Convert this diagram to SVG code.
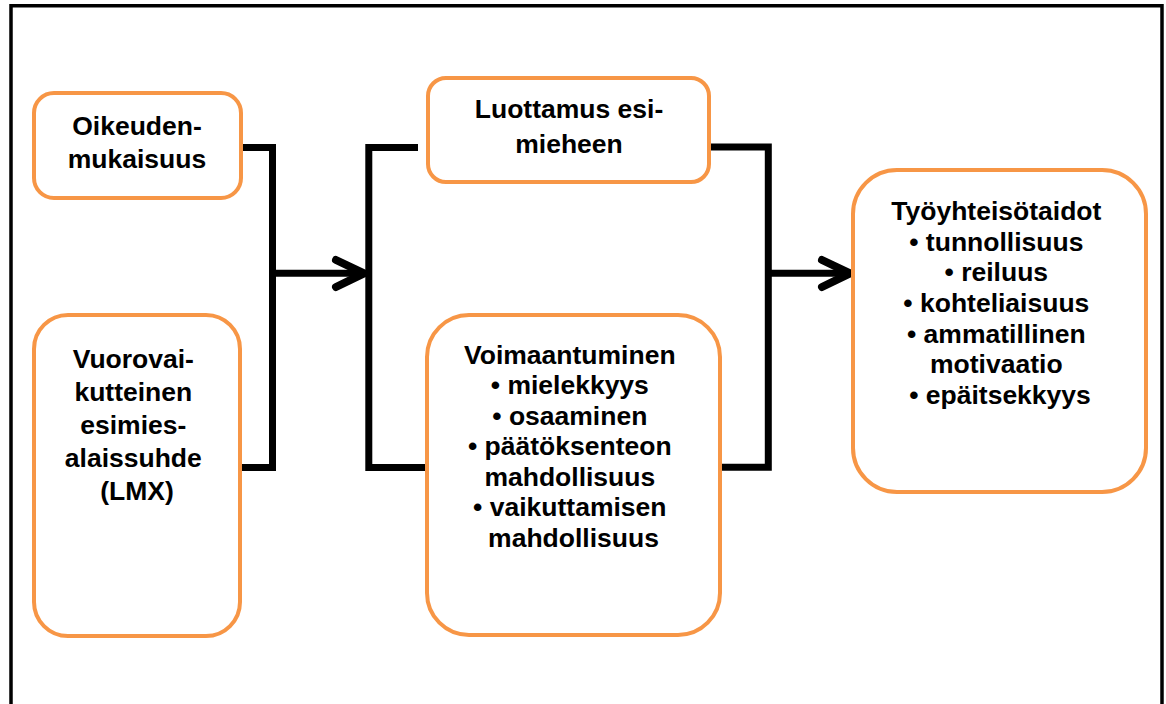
<svg xmlns="http://www.w3.org/2000/svg" width="1166" height="704" viewBox="0 0 1166 704">
  <defs>
    <style>
      .box { fill: #ffffff; stroke: #F79646; stroke-width: 4; }
      .lbl { font-family: "Liberation Sans", Arial, sans-serif; font-weight: bold; font-size: 26.5px; fill: #000000; text-anchor: middle; }
      .wire { fill: none; stroke: #000000; stroke-width: 7; stroke-linejoin: miter; stroke-linecap: butt; }
      .head { fill: none; stroke: #000000; stroke-width: 8; stroke-linecap: round; stroke-linejoin: round; }
    </style>
  </defs>
  <rect width="1166" height="704" fill="#ffffff"/>

  <!-- outer frame -->
  <path d="M11,704 V5.8 H1162 V704" fill="none" stroke="#000000" stroke-width="3.5"/>

  <!-- connectors -->
  <g id="connectors">
    <!-- bracket joining the two left boxes -->
    <path class="wire" d="M242,147.5 H272.5 V467.5 H241"/>
    <path class="wire" d="M272.5,273.3 H362"/>
    <path class="head" d="M336,260 L364,273.3 L336,287"/>
    <!-- bracket spanning the two middle boxes -->
    <path class="wire" d="M418,147.5 H368.8 V467.5 H427"/>
    <!-- bracket joining the two middle boxes -->
    <path class="wire" d="M709,147 H768.3 V467.3 H720"/>
    <path class="wire" d="M768.3,273.3 H848"/>
    <path class="head" d="M822,260 L850,273.3 L822,287"/>
  </g>

  <g id="oikeudenmukaisuus">
    <rect class="box" x="34" y="93" width="207" height="105" rx="20" ry="20"/>
    <text class="lbl"><tspan x="137" y="135">Oikeuden-</tspan><tspan x="137" y="168">mukaisuus</tspan></text>
  </g>

  <g id="lmx">
    <rect class="box" x="34" y="315" width="206" height="321" rx="34" ry="34"/>
    <text class="lbl">
      <tspan x="137" y="368">Vuorovai-</tspan>
      <tspan x="137" y="401">kutteinen</tspan>
      <tspan x="137" y="434">esimies-</tspan>
      <tspan x="137" y="467">alaissuhde</tspan>
      <tspan x="137" y="500">(LMX)</tspan>
    </text>
  </g>

  <g id="luottamus">
    <rect class="box" x="428" y="78" width="281" height="104" rx="18" ry="18"/>
    <text class="lbl"><tspan x="569" y="118">Luottamus esi-</tspan><tspan x="569" y="153">mieheen</tspan></text>
  </g>

  <g id="voimaantuminen">
    <rect class="box" x="427" y="315" width="293" height="320" rx="42" ry="42"/>
    <text class="lbl">
      <tspan x="573.5" y="363.5">Voimaantuminen</tspan>
      <tspan x="573.5" y="394">• mielekkyys</tspan>
      <tspan x="573.5" y="424.5">• osaaminen</tspan>
      <tspan x="573.5" y="455">• päätöksenteon</tspan>
      <tspan x="573.5" y="485.5">mahdollisuus</tspan>
      <tspan x="573.5" y="516">• vaikuttamisen</tspan>
      <tspan x="573.5" y="547">mahdollisuus</tspan>
    </text>
  </g>

  <g id="tyoyhteisotaidot">
    <rect class="box" x="853" y="170" width="293" height="322" rx="44" ry="44"/>
    <text class="lbl">
      <tspan x="1000" y="220">Työyhteisötaidot</tspan>
      <tspan x="1000" y="250.7">• tunnollisuus</tspan>
      <tspan x="1000" y="281.2">• reiluus</tspan>
      <tspan x="1000" y="311.8">• kohteliaisuus</tspan>
      <tspan x="1000" y="342.5">• ammatillinen</tspan>
      <tspan x="1000" y="373.2">motivaatio</tspan>
      <tspan x="1000" y="404">• epäitsekkyys</tspan>
    </text>
  </g>
</svg>
